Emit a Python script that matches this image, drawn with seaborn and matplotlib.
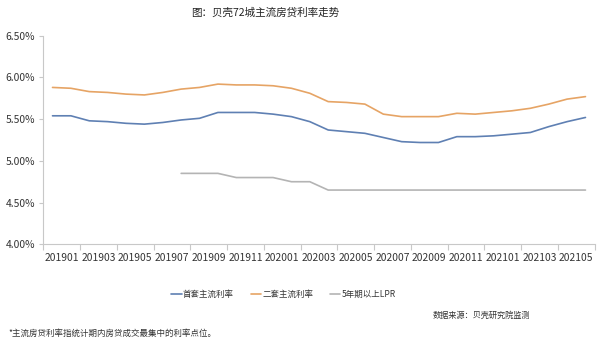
import numpy as np
import pandas as pd
import matplotlib
matplotlib.use("Agg")
import matplotlib.pyplot as plt
import seaborn as sns

# Monthly periods 201901 .. 202106
months = [f"{y}{m:02d}" for y in (2019, 2020, 2021) for m in range(1, 13)][:30]

first_home = [5.54, 5.54, 5.48, 5.47, 5.45, 5.44, 5.46, 5.49, 5.51, 5.58,
              5.58, 5.58, 5.56, 5.53, 5.47, 5.37, 5.35, 5.33, 5.28, 5.23,
              5.22, 5.22, 5.29, 5.29, 5.30, 5.32, 5.34, 5.41, 5.47, 5.52]
second_home = [5.88, 5.87, 5.83, 5.82, 5.80, 5.79, 5.82, 5.86, 5.88, 5.92,
               5.91, 5.91, 5.90, 5.87, 5.81, 5.71, 5.70, 5.68, 5.56, 5.53,
               5.53, 5.53, 5.57, 5.56, 5.58, 5.60, 5.63, 5.68, 5.74, 5.77]
lpr_5y = [np.nan] * 7 + [4.85, 4.85, 4.85, 4.80, 4.80, 4.80, 4.75, 4.75,
                         4.65, 4.65, 4.65, 4.65, 4.65, 4.65, 4.65, 4.65,
                         4.65, 4.65, 4.65, 4.65, 4.65, 4.65, 4.65]

series_names = ["首套主流利率", "二套主流利率", "5年期以上LPR"]
colors = ["#5f80b3", "#e6a465", "#b4b4b4"]

frames = []
for name, vals in zip(series_names, [first_home, second_home, lpr_5y]):
    frames.append(pd.DataFrame({"idx": np.arange(len(months)), "rate": vals, "series": name}))
df = pd.concat(frames, ignore_index=True).dropna()

sns.set_theme(style="white")
plt.rcParams["font.family"] = ["Noto Sans CJK SC", "DejaVu Sans"]

fig = plt.figure(figsize=(6.0, 3.41), dpi=100)
ax = fig.add_axes([0.0722, 0.2836, 0.9189, 0.6117])

sns.lineplot(data=df, x="idx", y="rate", hue="series", hue_order=series_names,
             palette=colors, linewidth=1.2, ax=ax, legend=False)

axis_gray = "#c8c8c8"
text_color = "#333333"

ax.set_xlim(-0.5, len(months) - 0.5)
ax.set_ylim(4.0, 6.5)
ax.set_yticks([4.0, 4.5, 5.0, 5.5, 6.0, 6.5])
ax.set_yticklabels([f"{v:.2f}%" for v in [4.0, 4.5, 5.0, 5.5, 6.0, 6.5]])

# category boundaries carry the tick marks, labels sit between pairs of months
ax.set_xticks(np.arange(-0.5, len(months), 1.0), minor=True)
ax.set_xticks(np.arange(0.5, len(months), 2.0))
ax.set_xticklabels(months[0::2])
ax.tick_params(axis="x", which="major", length=0, pad=6, labelsize=7.4, colors=text_color)
ax.tick_params(axis="x", which="minor", length=4, width=0.8, color=axis_gray, direction="out", bottom=True)
ax.tick_params(axis="y", which="major", length=3, width=0.8, color=axis_gray, labelsize=7.4,
               labelcolor=text_color, left=True, pad=3)

ax.set_xlabel("")
ax.set_ylabel("")
for side in ("top", "right"):
    ax.spines[side].set_visible(False)
for side in ("left", "bottom"):
    ax.spines[side].set_color(axis_gray)
    ax.spines[side].set_linewidth(0.8)
ax.grid(False)

fig.text(265 / 600, 1 - 13 / 341, "图：贝壳72城主流房贷利率走势", ha="center", va="center",
         fontsize=7.6, color="#222222")

from matplotlib.lines import Line2D
handles = [Line2D([], [], color=c, linewidth=1.2) for c in colors]
fig.legend(handles, series_names, loc="center", bbox_to_anchor=(283.5 / 600, 1 - 294 / 341),
           ncol=3, frameon=False, fontsize=6.1, handlelength=1.2, handletextpad=0.15,
           columnspacing=2.0, labelcolor=text_color)

fig.text(530 / 600, 1 - 315.5 / 341, "数据来源：贝壳研究院监测", ha="right", va="center",
         fontsize=5.9, color=text_color)
fig.text(8 / 600, 1 - 333 / 341, "*主流房贷利率指统计期内房贷成交最集中的利率点位。", ha="left",
         va="center", fontsize=6.1, color=text_color)

fig.savefig("out.png", dpi=100)
